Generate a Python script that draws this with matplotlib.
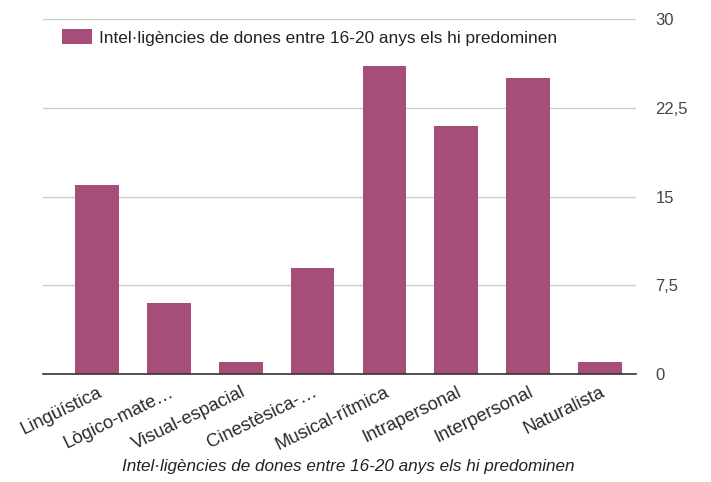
import matplotlib
matplotlib.use("Agg")
import matplotlib.pyplot as plt
from matplotlib.ticker import FixedLocator

categories = ["Lingüística", "Lògico-mate…", "Visual-espacial", "Cinestèsica-…",
              "Musical-rítmica", "Intrapersonal", "Interpersonal", "Naturalista"]
values = [16, 6, 1, 9, 26, 21, 25, 1]
series_name = "Intel·ligències de dones entre 16-20 anys els hi predominen"
y_ticks = [0, 7.5, 15, 22.5, 30]
y_tick_labels = ["0", "7,5", "15", "22,5", "30"]

plt.rcParams['font.family'] = ['Liberation Sans', 'DejaVu Sans']

fig = plt.figure(figsize=(7.11, 4.82), dpi=100)
ax = fig.add_axes([0.0605, 0.224, 0.834, 0.7366])

x = list(range(len(categories)))
ax.bar(x, values, width=0.61, color='#a64d79', label=series_name, zorder=3)

ax.set_xlim(-0.75, 7.5)
ax.set_ylim(0, 30)
ax.yaxis.tick_right()
ax.yaxis.set_major_locator(FixedLocator(y_ticks))
ax.set_yticklabels(y_tick_labels, fontsize=12, color='#444444')
ax.tick_params(axis='y', length=0, pad=14)
ax.grid(axis='y', color='#cccccc', linewidth=1, zorder=0)

ax.set_xticks(x)
ax.set_xticklabels(categories, rotation=26, ha='right', rotation_mode='anchor',
                   fontsize=13.3, color='#2a2a2a')
ax.tick_params(axis='x', length=0, pad=7)

for s in ['top', 'right', 'left']:
    ax.spines[s].set_visible(False)
ax.spines['bottom'].set_color('#333333')
ax.spines['bottom'].set_linewidth(1.2)
ax.spines['bottom'].set_zorder(4)

ax.legend(loc='upper left', bbox_to_anchor=(0.021, 0.99), frameon=False,
          fontsize=12.4, handlelength=1.75, handleheight=0.92, handletextpad=0.35,
          borderaxespad=0.0, labelcolor='#222222')

fig.text(0.49, 0.022, series_name, ha='center', va='baseline',
         fontsize=12.3, style='italic', color='#222222')

fig.savefig("out.png", dpi=100)
